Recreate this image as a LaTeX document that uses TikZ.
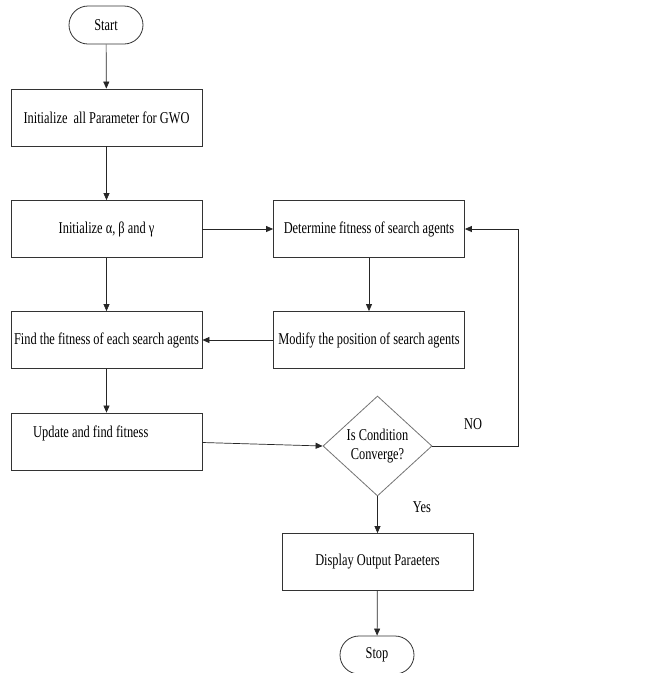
\documentclass[tikz,border=0pt]{standalone}
\usepackage{fontspec}
\setmainfont[FakeStretch=0.75]{Liberation Serif}
\usetikzlibrary{shapes.geometric,shapes.misc,arrows.meta}
\begin{document}
\begin{tikzpicture}[x=1pt,y=-1pt,
  every node/.style={font=\fontsize{16.5}{19}\selectfont},
  proc/.style={draw=black!80,line width=0.8pt,minimum width=191pt,minimum height=57pt,inner sep=0pt},
  term/.style={draw=black!80,line width=0.8pt,rounded rectangle,minimum width=74pt,minimum height=38pt,inner sep=0pt},
  dec/.style={draw=black!55,line width=0.8pt,diamond,minimum width=109pt,minimum height=100pt,inner sep=0pt,align=center,aspect=1.09},
  conn/.style={draw=black!85,line width=0.7pt,-{Triangle[length=7pt,width=6pt]}},
  lbl/.style={font=\fontsize{16.5}{19}\selectfont}]
\useasboundingbox (0,0) rectangle (661,673);
\node[term] (start) at (106,25) {Start};
\node[proc] (init) at (106.5,117.5) {Initialize\ \ all Parameter for GWO};
\node[proc] (ialpha) at (106.5,229) {Initialize α, β and γ};
\node[proc] (det) at (369,229) {Determine fitness of search agents};
\node[proc] (find) at (106.5,340) {Find the fitness of each search agents};
\node[proc] (mod) at (369,340) {Modify the position of search agents};
\node[proc] (upd) at (106.5,441.5) {};
\node[anchor=west,inner sep=0pt] at (33,433) (updtext) {Update and find fitness};
\node[dec] (cond) at (377.5,446) {Is Condition\\Converge?};
\node[proc] (disp) at (377.5,562) {Display Output Paraeters};
\node[term] (stop) at (377,655) {Stop};
\node[lbl] (no) at (473,424) {NO};
\node[lbl] (yes) at (422,507) {Yes};
\coordinate (c1) at (518,446);
\coordinate (c2) at (518,229);
\draw[conn] (start) -- (init);
\draw[conn] (init) -- (ialpha);
\draw[conn] (ialpha) -- (det);
\draw[conn] (det) -- (mod);
\draw[conn] (mod) -- (find);
\draw[conn] (ialpha) -- (find);
\draw[conn] (find) -- (upd);
\draw[conn] (upd.east) ++(0,1) -- (cond.west);
\draw[conn] (cond.east) -- (c1) -- (c2) -- (det.east);
\draw[conn] (cond) -- (disp);
\draw[conn] (disp) -- (stop);
\end{tikzpicture}
\end{document}
